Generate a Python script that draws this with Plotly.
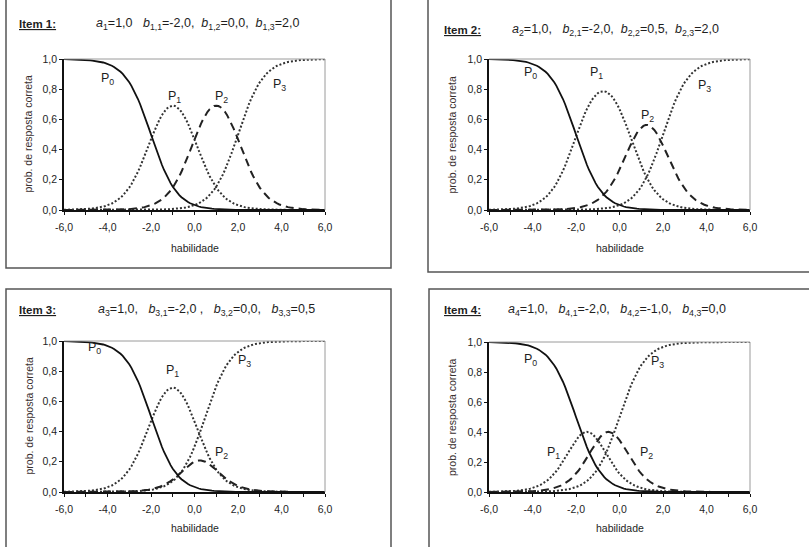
import numpy as np
import plotly.graph_objects as go

# Graded response model items: discrimination a and category thresholds b
item_names = ["Item 1:", "Item 2:", "Item 3:", "Item 4:"]
a_params = [1.0, 1.0, 1.0, 1.0]
b_item1 = [-2.0, 0.0, 2.0]
b_item2 = [-2.0, 0.5, 2.0]
b_item3 = [-2.0, 0.0, 0.5]
b_item4 = [-2.0, -1.0, 0.0]
b_params = [b_item1, b_item2, b_item3, b_item4]
D_SCALE = 1.7

theta = np.round(np.arange(-6.0, 6.0001, 0.1), 2)

x_tickvals = list(range(-6, 7))
x_ticktext = [f"{v:.1f}".replace(".", ",") if v % 2 == 0 else "" for v in x_tickvals]
y_tickvals = [0.0, 0.2, 0.4, 0.6, 0.8, 1.0]
y_ticktext = [f"{v:.1f}".replace(".", ",") for v in y_tickvals]

# Parameter captions (rich text)
param_texts = [
    "<i>a</i><sub>1</sub>=1,0&nbsp;&nbsp; <i>b</i><sub>1,1</sub>=-2,0,&nbsp; <i>b</i><sub>1,2</sub>=0,0,&nbsp; <i>b</i><sub>1,3</sub>=2,0",
    "<i>a</i><sub>2</sub>=1,0,&nbsp;&nbsp; <i>b</i><sub>2,1</sub>=-2,0,&nbsp; <i>b</i><sub>2,2</sub>=0,5,&nbsp; <i>b</i><sub>2,3</sub>=2,0",
    "<i>a</i><sub>3</sub>=1,0,&nbsp;&nbsp; <i>b</i><sub>3,1</sub>=-2,0 ,&nbsp;&nbsp; <i>b</i><sub>3,2</sub>=0,0,&nbsp;&nbsp; <i>b</i><sub>3,3</sub>=0,5",
    "<i>a</i><sub>4</sub>=1,0,&nbsp;&nbsp; <i>b</i><sub>4,1</sub>=-2,0,&nbsp;&nbsp; <i>b</i><sub>4,2</sub>=-1,0,&nbsp;&nbsp; <i>b</i><sub>4,3</sub>=0,0",
]

# Curve label positions (data coordinates) for P0..P3 in each item
label_pos = [
    [(-4.0, 0.87), (-0.9, 0.75), (1.25, 0.75), (3.9, 0.83)],
    [(-4.1, 0.905), (-1.05, 0.905), (1.3, 0.62), (3.9, 0.82)],
    [(-4.6, 0.955), (-1.0, 0.80), (1.25, 0.26), (2.3, 0.87)],
    [(-4.1, 0.88), (-3.05, 0.26), (1.25, 0.26), (1.75, 0.87)],
]

W, H = 809, 547


def px(x):
    return x / W


def py(y):
    return 1 - y / H


# Plot-area geometry in pixels: (left, right, top, bottom)
areas = [(64, 325, 59, 210), (489, 750, 59, 210), (64, 325, 341, 492), (489, 750, 342, 492)]
# Panel frames in pixels: (left, right, top, bottom)
frames = [(6, 391, -5, 268), (428, 815, -5, 272), (6, 391, 289, 555), (429, 815, 289, 555)]
# Heading positions in pixels: (item x, caption x-center, y)
heads = [(17, 197, 24), (442, 615, 30), (17, 206, 310), (442, 617, 310)]
xtitle_pos = [(195, 248), (620, 248), (195, 528), (620, 528)]
ytitle_x = [28, 452, 28, 452]

FONT = "Arial, Liberation Sans, sans-serif"
TXT = "#1e1e1e"

fig = go.Figure()
styles = [
    dict(color="#111111", width=1.8, dash="solid"),
    dict(color="#333333", width=2, dash="2px,2px"),
    dict(color="#222222", width=2, dash="8px,5px"),
    dict(color="#333333", width=2, dash="2px,2px"),
]

annotations = []
shapes = []
for i in range(4):
    a = a_params[i]
    b = b_params[i]
    cum = [np.ones_like(theta)] + [1 / (1 + np.exp(-D_SCALE * a * (theta - bk))) for bk in b] + [np.zeros_like(theta)]
    probs = [cum[k] - cum[k + 1] for k in range(4)]
    xa = "x" if i == 0 else f"x{i + 1}"
    ya = "y" if i == 0 else f"y{i + 1}"
    for k in (3, 1, 2, 0):
        fig.add_trace(go.Scatter(x=theta, y=probs[k], mode="lines", line=styles[k],
                                 xaxis=xa, yaxis=ya, showlegend=False, hoverinfo="skip"))

    l, r, t, bt = areas[i]
    sfx = "" if i == 0 else str(i + 1)
    fig.update_layout(**{
        f"xaxis{sfx}": dict(domain=[px(l), px(r)], anchor=ya, range=[-6, 6], showgrid=False, zeroline=False,
                           showline=True, linecolor="#111111", linewidth=2, ticks="outside", ticklen=3,
                           tickwidth=1.2, tickcolor="#111111", tickvals=x_tickvals, ticktext=x_ticktext,
                           tickfont=dict(family=FONT, size=10.5, color=TXT), fixedrange=True,
                           ticklabelstandoff=3, automargin=False),
        f"yaxis{sfx}": dict(domain=[py(bt), py(t)], anchor=xa, range=[0, 1], showgrid=False, zeroline=False,
                           showline=True, linecolor="#111111", linewidth=1.5, ticks="outside", ticklen=3,
                           tickwidth=1.2, tickcolor="#111111", tickvals=y_tickvals, ticktext=y_ticktext,
                           tickfont=dict(family=FONT, size=10.5, color=TXT), fixedrange=True,
                           automargin=False),
    })
    # gray top and right edges of the plot area
    shapes.append(dict(type="line", xref=f"{xa} domain", yref=f"{ya} domain", x0=0, x1=1, y0=1, y1=1,
                       line=dict(color="#9a9a9a", width=1)))
    shapes.append(dict(type="line", xref=f"{xa} domain", yref=f"{ya} domain", x0=1, x1=1, y0=0, y1=1,
                       line=dict(color="#9a9a9a", width=1)))
    # panel frame
    fl, fr, ft, fb = frames[i]
    shapes.append(dict(type="rect", xref="paper", yref="paper", x0=px(fl), x1=px(fr), y0=py(fb), y1=py(ft),
                       line=dict(color="#555555", width=1.5), fillcolor="rgba(0,0,0,0)", layer="below"))

    # curve labels
    for k, (lx, ly) in enumerate(label_pos[i]):
        annotations.append(dict(x=lx, y=ly, xref=xa, yref=ya, text=f"P<sub>{k}</sub>", showarrow=False,
                                xanchor="center", yanchor="middle",
                                font=dict(family=FONT, size=12.5, color=TXT)))
    # headings
    hx, cx, hy = heads[i]
    annotations.append(dict(x=px(hx), y=py(hy), xref="paper", yref="paper", xanchor="left", yanchor="middle",
                            text=f"<b><u>{item_names[i]}</u></b>", showarrow=False,
                            font=dict(family=FONT, size=11.5, color=TXT)))
    annotations.append(dict(x=px(cx), y=py(hy), xref="paper", yref="paper", xanchor="center", yanchor="middle",
                            text=param_texts[i], showarrow=False,
                            font=dict(family=FONT, size=12.5, color=TXT)))
    # axis titles
    tx, ty = xtitle_pos[i]
    annotations.append(dict(x=px(tx), y=py(ty), xref="paper", yref="paper", text="habilidade", showarrow=False,
                            xanchor="center", yanchor="middle",
                            font=dict(family=FONT, size=10.5, color=TXT)))
    annotations.append(dict(x=px(ytitle_x[i]), y=py((t + bt) / 2), xref="paper", yref="paper",
                            xanchor="center", yanchor="middle",
                            text="prob. de resposta correta", textangle=-90, showarrow=False,
                            font=dict(family=FONT, size=10.5, color="#3a3030")))

fig.update_layout(width=W, height=H, margin=dict(l=0, r=0, t=0, b=0), paper_bgcolor="white",
                  plot_bgcolor="white", annotations=annotations, shapes=shapes, showlegend=False)

fig.write_html("out.html")
